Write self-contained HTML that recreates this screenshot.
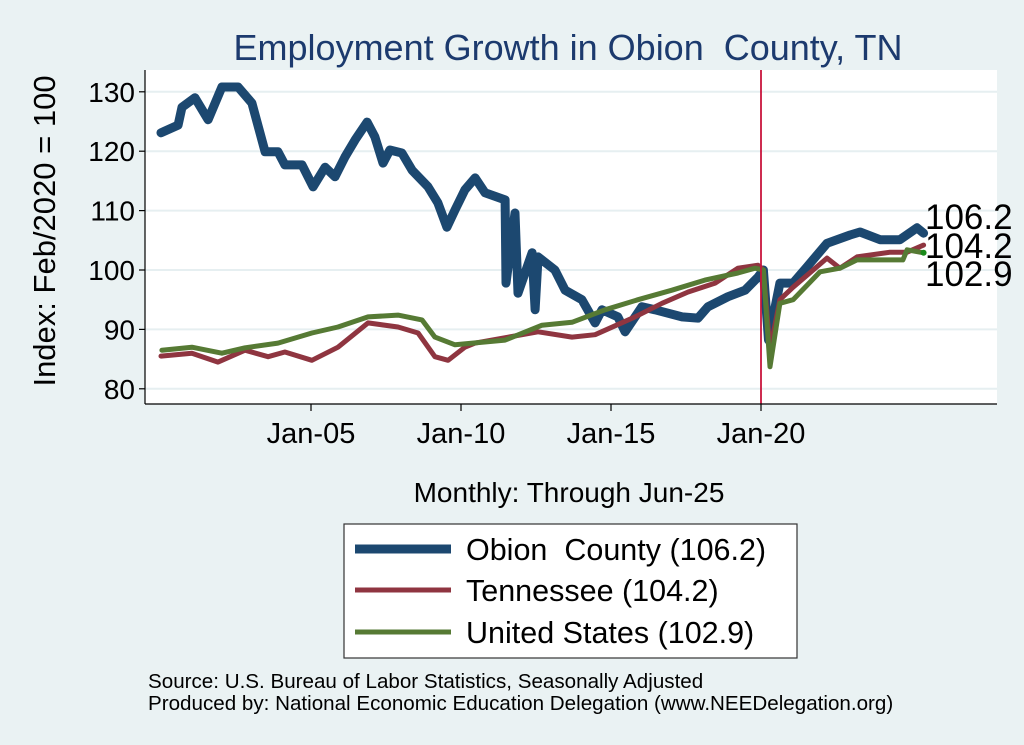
<!DOCTYPE html>
<html><head><meta charset="utf-8">
<style>
html,body{margin:0;padding:0;background:#eaf2f3;}
svg{display:block;font-family:"Liberation Sans",Arial,sans-serif;}
</style></head>
<body>
<svg id="chart" width="1024" height="745" viewBox="0 0 1024 745" xmlns="http://www.w3.org/2000/svg">
<rect x="0" y="0" width="1024" height="745" fill="#eaf2f3"/>
<text x="568" y="60" text-anchor="middle" font-size="36" fill="#1c3a6e">Employment Growth in Obion&#160; County, TN</text>
<rect x="145" y="70" width="852" height="334" fill="#ffffff"/>
<g id="grid"></g>
<g id="series"></g>
<line x1="145" y1="70" x2="145" y2="404" stroke="#000" stroke-width="1.2"/>
<line x1="145" y1="404" x2="997" y2="404" stroke="#000" stroke-width="1.2"/>
<g id="ticks"></g>
<text transform="translate(55,231) rotate(-90)" text-anchor="middle" font-size="31" fill="#000">Index: Feb/2020 = 100</text>
<text x="569" y="502" text-anchor="middle" font-size="28" fill="#000">Monthly: Through Jun-25</text>
<g>
<rect x="344" y="524" width="453" height="134" fill="#fff" stroke="#333" stroke-width="1.2"/>
<line x1="355" y1="549" x2="451" y2="549" stroke="#1c4870" stroke-width="9"/>
<text x="466" y="560" font-size="30.5">Obion&#160; County (106.2)</text>
<line x1="355" y1="590" x2="451" y2="590" stroke="#8f3540" stroke-width="5"/>
<text x="466" y="601" font-size="30.5">Tennessee (104.2)</text>
<line x1="355" y1="632" x2="451" y2="632" stroke="#567a34" stroke-width="5"/>
<text x="466" y="643" font-size="30.5">United States (102.9)</text>
</g>
<text x="148" y="688" font-size="20.6">Source: U.S. Bureau of Labor Statistics, Seasonally Adjusted</text>
<text x="148" y="710" font-size="20.6">Produced by: National Economic Education Delegation (www.NEEDelegation.org)</text>
</svg>
<script>
const yTicks=[80,90,100,110,120,130];
const xTickYears=[2005,2010,2015,2020];
const xTickLabels=["Jan-05","Jan-10","Jan-15","Jan-20"];
const obionYears=[2000.0,2000.57,2000.7,2001.13,2001.57,2002.03,2002.57,2003.03,2003.47,2003.9,2004.13,2004.7,2005.07,2005.47,2005.8,2006.13,2006.47,2006.87,2007.13,2007.4,2007.63,2008.03,2008.37,2008.9,2009.23,2009.53,2009.8,2010.13,2010.47,2010.8,2011.47,2011.5,2011.8,2011.9,2012.37,2012.47,2012.57,2013.13,2013.47,2014.03,2014.47,2014.7,2015.23,2015.47,2016.03,2016.47,2017.37,2017.9,2018.23,2018.9,2019.47,2019.9,2020.08,2020.25,2020.63,2021.07,2021.53,2022.2,2022.97,2023.3,2023.97,2024.63,2025.2,2025.42];
const obionValues=[123.1,124.4,127.4,129,125.3,130.8,130.8,128.1,119.9,119.9,117.7,117.7,114.0,117.3,115.7,119,121.9,124.9,122.4,118,120.2,119.7,116.8,114,111.3,107.2,110.1,113.5,115.5,113,111.8,97.8,109.6,96.1,102.9,93.3,102.2,100,96.6,95,91.1,93.3,92.1,89.6,93.8,93.3,92.1,91.9,93.8,95.5,96.6,98.8,100.0,88.2,97.8,97.8,100.5,104.5,105.9,106.4,105.1,105.1,107.1,106.2];
const tnYears=[2000.0,2001.03,2001.9,2002.8,2003.57,2004.13,2005.03,2005.9,2006.9,2007.9,2008.57,2009.13,2009.57,2010.13,2010.47,2012.57,2013.7,2014.47,2015.8,2016.7,2017.57,2018.47,2019.23,2019.9,2020.08,2020.3,2020.63,2021.07,2022.2,2022.63,2023.2,2024.3,2024.87,2025.42];
const tnValues=[85.5,86,84.5,86.5,85.4,86.2,84.8,87,91.1,90.4,89.4,85.4,84.8,87,87.7,89.6,88.7,89.1,92.1,94.4,96.3,97.8,100.3,100.8,100.0,86.5,95,97.1,102,100.3,102.2,103,103,104.2];
const usYears=[2000.03,2001.03,2002.03,2002.8,2003.9,2005.03,2005.9,2006.9,2007.9,2008.7,2009.13,2009.8,2011.47,2012.7,2013.7,2014.8,2015.9,2017.03,2018.13,2019.23,2019.8,2020.08,2020.3,2020.63,2021.07,2021.97,2022.63,2023.2,2023.97,2024.73,2024.87,2025.42];
const usValues=[86.5,87,86,86.9,87.7,89.4,90.4,92.1,92.4,91.6,88.7,87.4,88.2,90.7,91.2,93.3,95,96.6,98.3,99.5,100.3,100.0,83.7,94.4,95,99.7,100.3,101.7,101.7,101.7,103.4,102.9];
const endLabels=["106.2","104.2","102.9"];

const NS="http://www.w3.org/2000/svg";
const xs=yr=>311+(yr-2005)*30;
const ys=v=>270-(v-100)*5.94;
function mk(tag,attrs,parent){const e=document.createElementNS(NS,tag);for(const k in attrs)e.setAttribute(k,attrs[k]);parent.appendChild(e);return e;}
const grid=document.getElementById('grid'),ticks=document.getElementById('ticks'),ser=document.getElementById('series');
yTicks.forEach(v=>{
  const g=mk('line',{x1:145,x2:997,y1:ys(v),y2:ys(v),stroke:'#e6eff1','stroke-width':2},grid);
  
  
  const t=mk('line',{x1:139,x2:145,y1:ys(v),y2:ys(v),stroke:'#000','stroke-width':1.2},ticks);
  
  
  const l=mk('text',{x:135,y:ys(v)+10,'text-anchor':'end','font-size':28},ticks);
  l.textContent=v;
  
  
});
xTickYears.forEach((yr,i)=>{
  const t=mk('line',{x1:xs(yr),x2:xs(yr),y1:404,y2:411,stroke:'#000','stroke-width':1.2},ticks);
  
  
  const l=mk('text',{x:xs(yr),y:443,'text-anchor':'middle','font-size':29},ticks);
  l.textContent=xTickLabels[i];
  
  
});
function line(years,vals,color,w,name){
  const d=years.map((y,i)=>(i?'L':'M')+xs(y).toFixed(1)+' '+ys(vals[i]).toFixed(1)).join(' ');
  const p=mk('path',{d:d,fill:'none',stroke:color,'stroke-width':w,'stroke-linejoin':'round','stroke-linecap':'round'},ser);
  
  
}
line(obionYears,obionValues,'#1c4870',9,'obion-county-line');
line(tnYears,tnValues,'#8f3540',5,'tennessee-line');
line(usYears,usValues,'#567a34',5,'united-states-line');
const ref=mk('line',{x1:xs(2020.0),x2:xs(2020.0),y1:70,y2:404,stroke:'#c8143c','stroke-width':1.8},ser);


const dot=mk('circle',{cx:xs(usYears[usYears.length-1]),cy:ys(usValues[usValues.length-1]),r:3,fill:'#1a8a1a'},ser);


const ends=[obionValues[obionValues.length-1],tnValues[tnValues.length-1],usValues[usValues.length-1]];
const endY=[229,258,286];
ends.forEach((v,i)=>{
  const t=mk('text',{x:925,y:endY[i],'font-size':35},ser);
  t.textContent=endLabels[i];
  
  
});
</script>
</body></html>
